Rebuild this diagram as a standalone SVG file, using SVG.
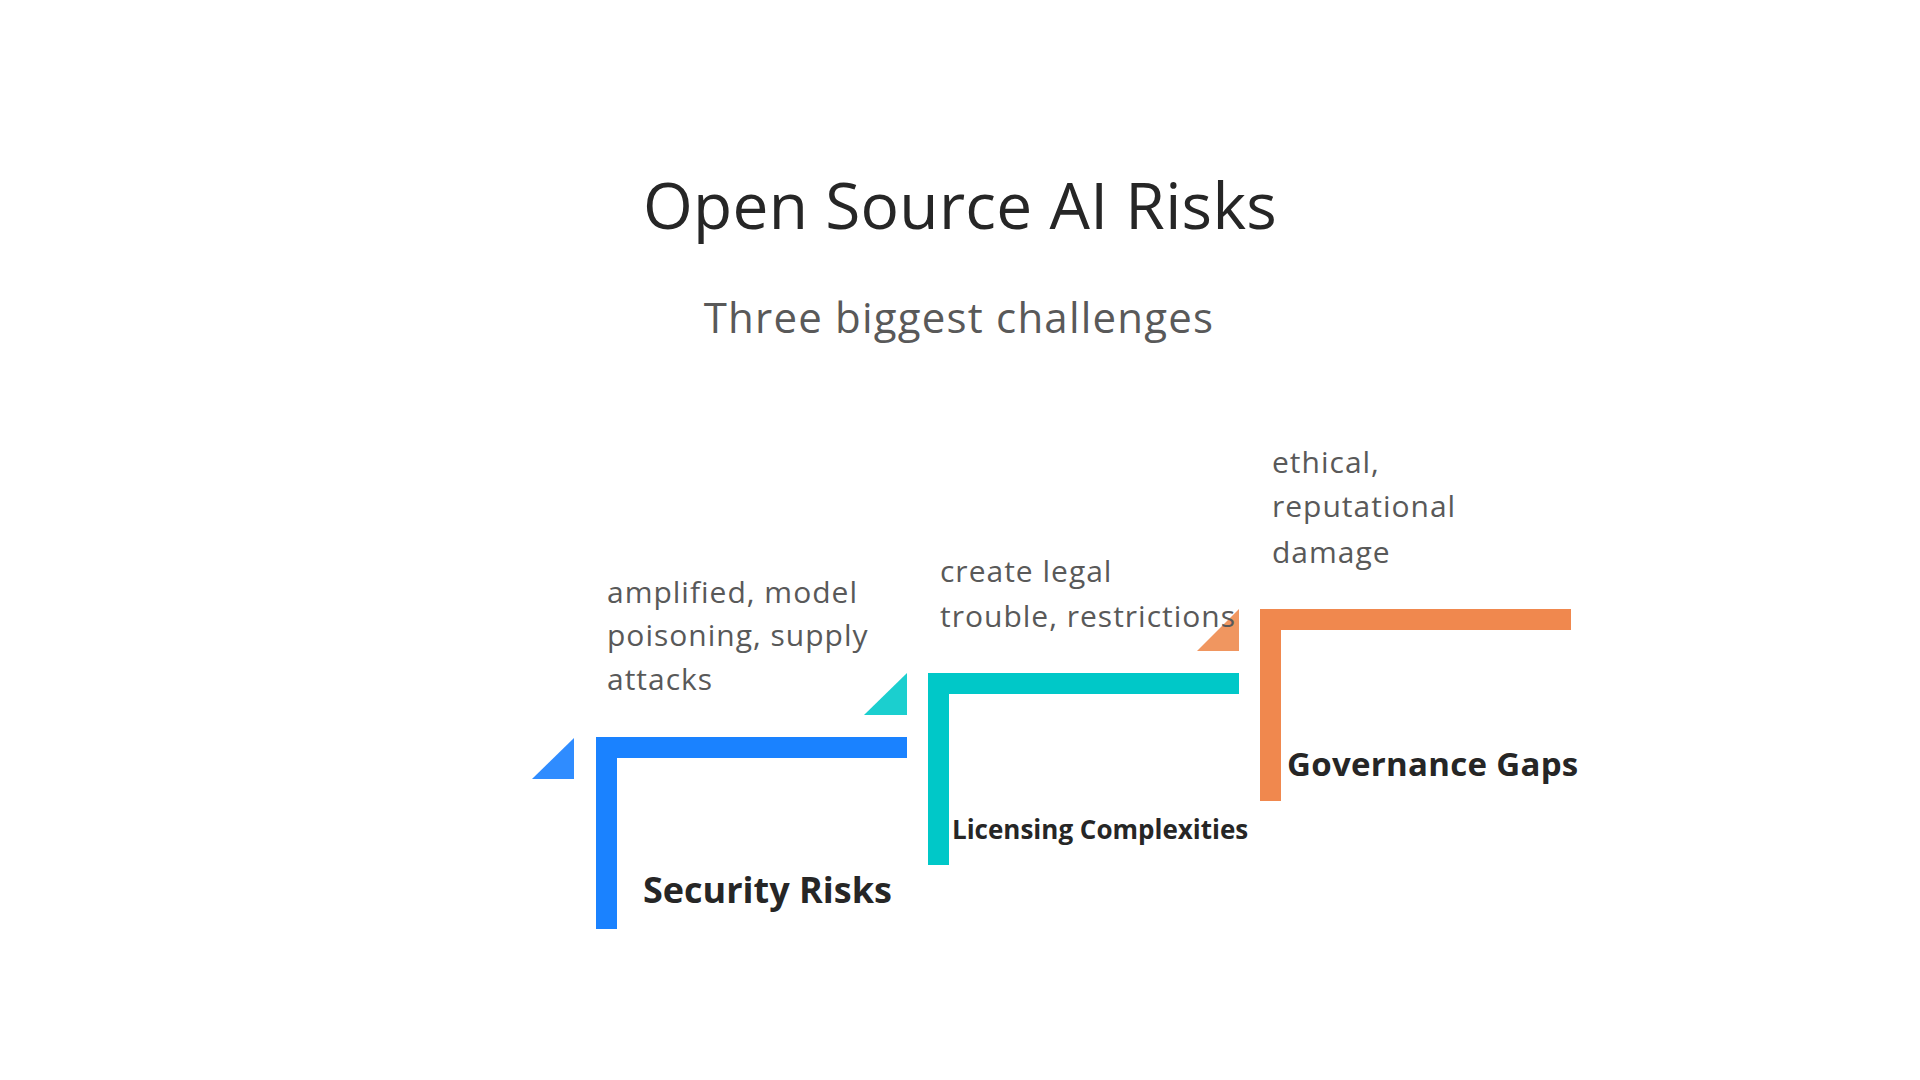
<svg xmlns="http://www.w3.org/2000/svg" width="1920" height="1080" viewBox="0 0 1920 1080">
<style>
.title{font-family:"Open Sans","Liberation Sans",sans-serif;font-size:64px;fill:#262626;letter-spacing:0.3px}
.sub{font-family:"Open Sans","Liberation Sans",sans-serif;font-size:42px;fill:#595959;letter-spacing:1.2px}
.desc{font-family:"Open Sans","Liberation Sans",sans-serif;font-size:30px;fill:#595959;letter-spacing:1px}
.lbl{font-family:"Open Sans","Liberation Sans",sans-serif;font-weight:bold;fill:#262626}
.blue{fill:#1A82FF}.blueT{fill:#2F8CFF}
.teal{fill:#00C8C8}.tealT{fill:#1BCFCF}
.orange{fill:#F0884E}.orangeT{fill:#F09660}
</style>
<rect width="1920" height="1080" fill="#FFFFFF"/>
<text class="title" x="960" y="229" text-anchor="middle">Open Source AI Risks</text>
<text class="sub" x="959" y="333" text-anchor="middle">Three biggest challenges</text>
<g id="connectors">
<polygon class="blueT" points="532,779 574,738 574,779"/>
<polygon class="tealT" points="864,715 907,673 907,715"/>
<polygon class="orangeT" points="1197,651 1239,609 1239,651"/>
</g>
<g id="security-risks">
<path class="blue" d="M596,737 H907 V758 H617 V929 H596 Z"/>
<text class="desc" x="607" y="603">amplified, model</text>
<text class="desc" x="607" y="646">poisoning, supply</text>
<text class="desc" x="607" y="690">attacks</text>
<text class="lbl" x="643" y="903" font-size="36">Security Risks</text>
</g>
<g id="licensing-complexities">
<path class="teal" d="M928,673 H1239 V694 H949 V865 H928 Z"/>
<text class="desc" x="940" y="582">create legal</text>
<text class="desc" x="940" y="627">trouble, restrictions</text>
<text class="lbl" x="952" y="839" font-size="26">Licensing Complexities</text>
</g>
<g id="governance-gaps">
<path class="orange" d="M1260,609 H1571 V630 H1281 V801 H1260 Z"/>
<text class="desc" x="1272" y="473">ethical,</text>
<text class="desc" x="1272" y="517">reputational</text>
<text class="desc" x="1272" y="563">damage</text>
<text class="lbl" x="1287" y="776" font-size="33" letter-spacing="0.3">Governance Gaps</text>
</g>
</svg>
